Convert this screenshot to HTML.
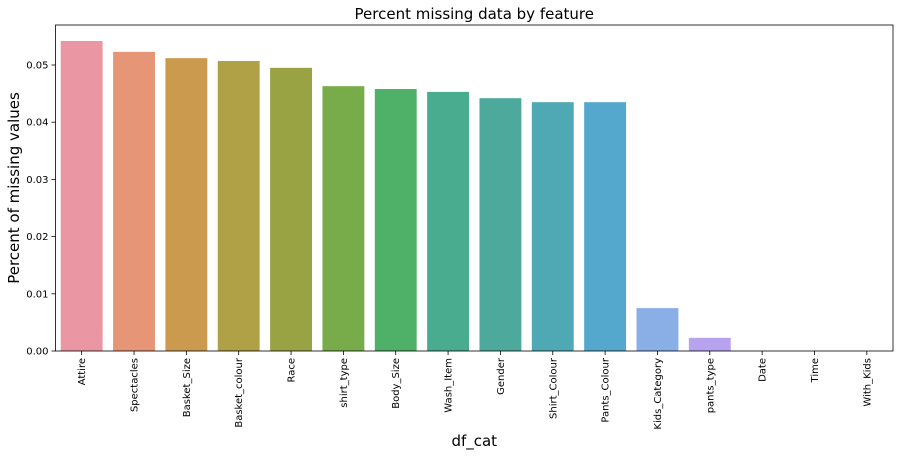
<!DOCTYPE html>
<html><head><meta charset="utf-8"><style>
body{margin:0;background:#fff;width:899px;height:457px;overflow:hidden}
text{font-family:"DejaVu Sans","Liberation Sans",sans-serif;fill:#000}
</style></head><body>
<svg id="chart" width="899" height="457" xmlns="http://www.w3.org/2000/svg"></svg>
<script>
const categories=["Attire","Spectacles","Basket_Size","Basket_colour","Race","shirt_type","Body_Size","Wash_Item","Gender","Shirt_Colour","Pants_Colour","Kids_Category","pants_type","Date","Time","With_Kids"];
const values=[0.0542,0.0523,0.0512,0.0507,0.0495,0.0463,0.0458,0.0453,0.0442,0.0435,0.0435,0.0075,0.0023,0,0,0];
const colors=["#ea96a3","#e69676","#cc9a4f","#b0a046","#99a343","#78ac4a","#4fb068","#4aac8e","#4ca99c","#4fa9b4","#55a8cd","#8aaee6","#b7a3ed","#de94e2","#f08ad0","#f28fb5"];
const yTicks=[0,0.01,0.02,0.03,0.04,0.05];
const yTickLabels=["0.00","0.01","0.02","0.03","0.04","0.05"];
const svg=document.getElementById('chart');const NS="http://www.w3.org/2000/svg";
const L=55.5,R=893,T=25,B=351;
const y0=351,perUnit=(351-65)/0.05;
function yScale(v){return y0-v*perUnit;}
const step=(R-L)/categories.length;
function xCenter(i){return L+step*(i+0.5);}
function mk(tag,attrs,parent){const e=document.createElementNS(NS,tag);for(const k in attrs)e.setAttribute(k,attrs[k]);(parent||svg).appendChild(e);return e;}
categories.forEach((c,i)=>{
 const h=y0-yScale(values[i]);
 const r=mk('rect',{x:xCenter(i)-step*0.4,y:yScale(values[i]),width:step*0.8,height:h,fill:colors[i]});
 
 
 mk('line',{x1:xCenter(i),x2:xCenter(i),y1:B,y2:B+4,stroke:'#000','stroke-width':0.8});
 const t=mk('text',{x:0,y:0,'font-size':10,'text-anchor':'end',transform:`translate(${xCenter(i)+3.5},${B+7}) rotate(-90)`});
 t.textContent=c;
 
 
});
yTicks.forEach((v,i)=>{
 mk('line',{x1:L-4,x2:L,y1:yScale(v),y2:yScale(v),stroke:'#000','stroke-width':0.8});
 const t=mk('text',{x:L-7,y:yScale(v)+3.5,'font-size':10,'text-anchor':'end'});
 t.textContent=yTickLabels[i];
 
 
});
const frame=mk('rect',{x:L,y:T,width:R-L,height:B-T,fill:'none',stroke:'#000','stroke-width':0.8});


const title=mk('text',{x:(L+R)/2,y:19,'font-size':15,'text-anchor':'middle'});title.textContent="Percent missing data by feature";


const xt=mk('text',{x:(L+R)/2,y:446,'font-size':15,'text-anchor':'middle'});xt.textContent="df_cat";


const yt=mk('text',{x:0,y:0,'font-size':15,'text-anchor':'middle',transform:`translate(19,${(T+B)/2}) rotate(-90)`});yt.textContent="Percent of missing values";


</script>
</body></html>
